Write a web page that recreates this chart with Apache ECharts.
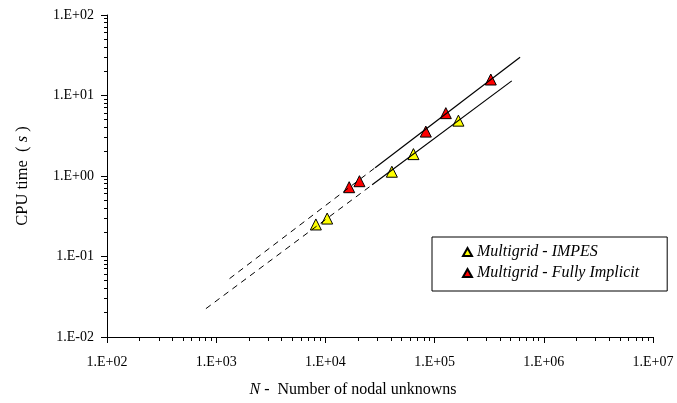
<!DOCTYPE html>
<html>
<head>
<meta charset="utf-8">
<script src="https://cdn.jsdelivr.net/npm/echarts@6/dist/echarts.min.js"></script>
<style>html,body{margin:0;padding:0;background:#fff}#c{width:677px;height:403px}</style>
</head>
<body>
<div id="c"></div>
<script>
// ---- data ----
const impesN = [8180, 10380, 40600, 64000, 165200];
const impesT = [0.25, 0.296, 1.13, 1.87, 4.87];
const fullyN = [16510, 20500, 83100, 126700, 327000];
const fullyT = [0.726, 0.862, 3.56, 6.04, 15.8];
// trend lines: [dashed start, solid start, end]
const impesTrendN = [805, 26800, 509000];
const impesTrendT = [0.0225, 0.777, 15.2];
const fullyTrendN = [1325, 28550, 606500];
const fullyTrendT = [0.0531, 1.268, 29.8];
// tick labels
const xTickLabels = ['1.E+02', '1.E+03', '1.E+04', '1.E+05', '1.E+06', '1.E+07'];
const yTickLabels = ['1.E-02', '1.E-01', '1.E+00', '1.E+01', '1.E+02'];
const seriesNames = ['Multigrid - IMPES', 'Multigrid - Fully Implicit'];

const X_MIN = 1e2, X_MAX = 1e7, Y_MIN = 1e-2, Y_MAX = 1e2;
const FONT = "'Liberation Serif','Times New Roman',serif";

function minorTicks(lo, hi) {
  const out = [];
  for (let e = Math.round(Math.log10(lo)); e < Math.round(Math.log10(hi)); e++) {
    for (let k = 2; k <= 9; k++) out.push(k * Math.pow(10, e));
  }
  return out;
}
const xMinor = minorTicks(X_MIN, X_MAX);
const yMinor = minorTicks(Y_MIN, Y_MAX);

const zip = (a, b) => a.map((v, i) => [v, b[i]]);
const snap = v => Math.round(v - 0.5) + 0.5;

const chart = echarts.init(document.getElementById('c'), null, {renderer: 'canvas'});
const option = {
  animation: false,
  backgroundColor: '#fff',
  grid: {left: 107, right: 24, top: 15, bottom: 66, containLabel: false, outerBoundsMode: 'none'},
  xAxis: {
    type: 'log', logBase: 10, min: X_MIN, max: X_MAX,
    axisLine: {show: true, lineStyle: {color: '#000', width: 1}},
    axisTick: {show: true, inside: false, length: 6, lineStyle: {color: '#000'}},
    splitLine: {show: false},
    axisLabel: {
      color: '#000', fontFamily: FONT, fontSize: 14, margin: 18,
      formatter: v => xTickLabels[Math.round(Math.log10(v)) - 2]
    },
    name: '{it|N} -  Number of nodal unknowns',
    nameLocation: 'middle', nameGap: 45,
    nameTextStyle: {color: '#000', fontFamily: FONT, fontSize: 16, padding: [0, 54, 0, 0],
      rich: {it: {fontStyle: 'italic', fontFamily: FONT, fontSize: 16, color: '#000'}}}
  },
  yAxis: {
    type: 'log', logBase: 10, min: Y_MIN, max: Y_MAX,
    axisLine: {show: true, lineStyle: {color: '#000', width: 1}},
    axisTick: {show: true, inside: false, length: 6, lineStyle: {color: '#000'}},
    splitLine: {show: false},
    axisLabel: {
      color: '#000', fontFamily: FONT, fontSize: 14, margin: 13,
      formatter: v => yTickLabels[Math.round(Math.log10(v)) + 2]
    },
    name: 'CPU time  ( {it|s} )',
    nameLocation: 'middle', nameGap: 76,
    nameTextStyle: {color: '#000', fontFamily: FONT, fontSize: 16.5,
      rich: {it: {fontStyle: 'italic', fontFamily: FONT, fontSize: 16.5, color: '#000'}}}
  },
  legend: {
    data: seriesNames.map(n => ({name: n, icon: 'triangle'})),
    orient: 'vertical', left: 432, top: 237,
    itemWidth: 9, itemHeight: 8, itemGap: 5,
    padding: [7, 28, 10, 30],
    borderColor: '#000', borderWidth: 1, borderRadius: 0,
    backgroundColor: '#fff',
    textStyle: {color: '#000', fontFamily: FONT, fontStyle: 'italic', fontSize: 16, lineHeight: 14}
  },
  series: [
    {
      type: 'custom', coordinateSystem: 'cartesian2d', silent: true, clip: false,
      data: yMinor.map(v => [X_MIN, v]),
      renderItem: (params, api) => {
        const p = api.coord([api.value(0), api.value(1)]);
        const y = snap(p[1]), x = snap(p[0]);
        return {type: 'line', shape: {x1: x - 3.5, y1: y, x2: x, y2: y}, style: {stroke: '#000', lineWidth: 1}};
      }
    },
    {
      type: 'custom', coordinateSystem: 'cartesian2d', silent: true, clip: false,
      data: xMinor.map(v => [v, Y_MIN]),
      renderItem: (params, api) => {
        const p = api.coord([api.value(0), api.value(1)]);
        const y = snap(p[1]), x = snap(p[0]);
        return {type: 'line', shape: {x1: x, y1: y, x2: x, y2: y + 3.5}, style: {stroke: '#000', lineWidth: 1}};
      }
    },
    {
      name: seriesNames[0], type: 'scatter', symbol: 'triangle', symbolSize: [11, 11],
      itemStyle: {color: '#FFFF00', borderColor: '#000', borderWidth: 1, opacity: 1},
      data: zip(impesN, impesT), z: 2
    },
    {
      name: seriesNames[1], type: 'scatter', symbol: 'triangle', symbolSize: [11, 11],
      itemStyle: {color: '#FF0000', borderColor: '#000', borderWidth: 1, opacity: 1},
      data: zip(fullyN, fullyT), z: 2
    },
    {
      type: 'line', symbol: 'none', silent: true, z: 3,
      lineStyle: {color: '#000', width: 1, type: [6, 5]},
      data: zip(impesTrendN.slice(0, 2), impesTrendT.slice(0, 2))
    },
    {
      type: 'line', symbol: 'none', silent: true, z: 3,
      lineStyle: {color: '#000', width: 1.2, type: 'solid'},
      data: zip(impesTrendN.slice(1), impesTrendT.slice(1))
    },
    {
      type: 'line', symbol: 'none', silent: true, z: 3,
      lineStyle: {color: '#000', width: 1, type: [6, 5]},
      data: zip(fullyTrendN.slice(0, 2), fullyTrendT.slice(0, 2))
    },
    {
      type: 'line', symbol: 'none', silent: true, z: 3,
      lineStyle: {color: '#000', width: 1.2, type: 'solid'},
      data: zip(fullyTrendN.slice(1), fullyTrendT.slice(1))
    }
  ]
};
chart.setOption(option);
</script>
</body>
</html>
